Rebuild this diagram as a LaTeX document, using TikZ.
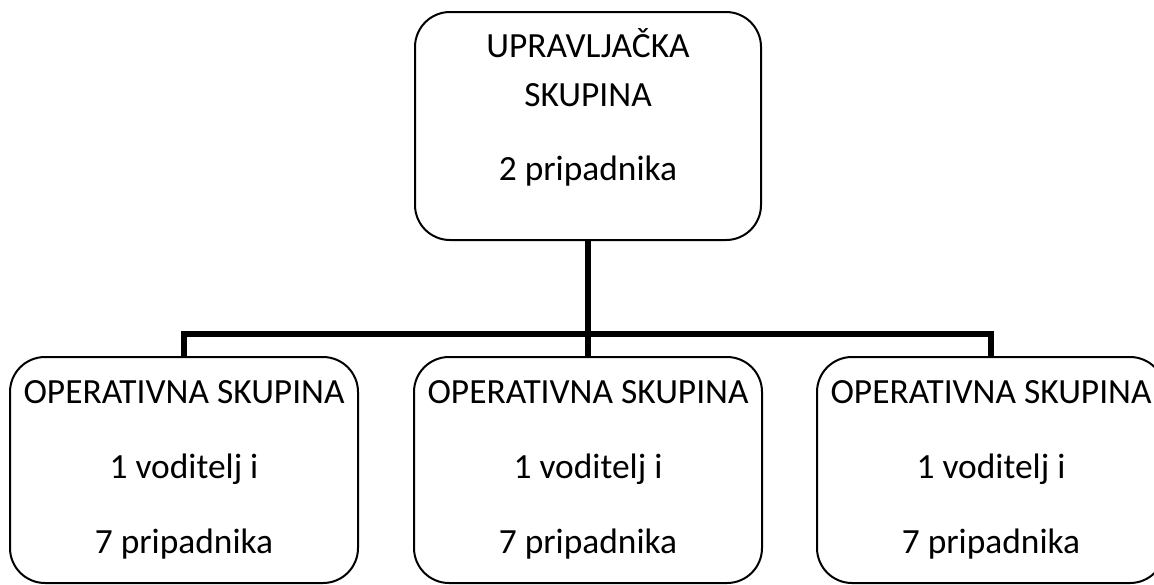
\documentclass[tikz,border=0pt]{standalone}
\usepackage{fontspec}
\setmainfont{Carlito}
\usepackage{tikz}
\usetikzlibrary{positioning}

\begin{document}
\begin{tikzpicture}[x=0.5pt, y=-0.5pt,
	groupbox/.style={draw, rounded corners=17.5pt, line width=1pt, inner sep=0pt,
		align=center, font=\fontsize{17.7}{24.5}\selectfont},
	link/.style={line width=3pt}]
	% Fix the page size
	\clip (0,0) rectangle (1154,584);
	% Draw the control group
	\node[groupbox, minimum width=173pt, minimum height=114pt] (ctrl) at (588,126)
		{UPRAVLJAČKA\\SKUPINA\\[12.5pt]2 pripadnika\rule[-21.5pt]{0pt}{0pt}};
	% Draw the operative groups
	\node[groupbox, minimum width=174pt, minimum height=113pt] (op1) at (184,470)
		{OPERATIVNA SKUPINA\\[13pt]1 voditelj i\\[13pt]7 pripadnika};
	\node[groupbox, minimum width=174pt, minimum height=113pt] (op2) at (588,470)
		{OPERATIVNA SKUPINA\\[13pt]1 voditelj i\\[13pt]7 pripadnika};
	\node[groupbox, minimum width=174pt, minimum height=113pt] (op3) at (991,470)
		{OPERATIVNA SKUPINA\\[13pt]1 voditelj i\\[13pt]7 pripadnika};
	% Draw the connectors
	\coordinate (bus) at (588,334);
	\draw[link] (ctrl.south) -- (bus);
	\draw[link] (op1.north) |- (bus) -| (op3.north);
	\draw[link] (op2.north) -- (bus);
\end{tikzpicture}
\end{document}
